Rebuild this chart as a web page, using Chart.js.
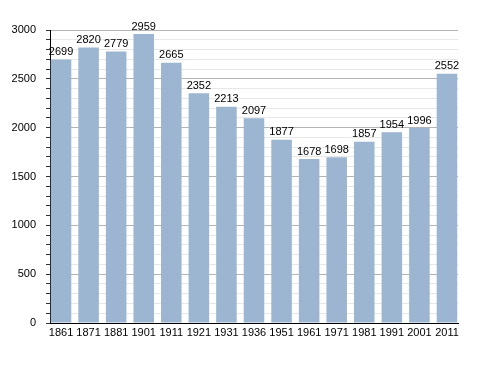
<!DOCTYPE html>
<html>
<head>
<meta charset="utf-8">
<script src="https://cdn.jsdelivr.net/npm/chart.js@4"></script>
<style>
  html, body { margin: 0; padding: 0; background: #fff; }
  #wrap { width: 488px; height: 373px; }
</style>
</head>
<body>
<div id="wrap"><canvas id="grafico" width="488" height="373"></canvas></div>
<script>
// Dados
const anos = ['1861', '1871', '1881', '1901', '1911', '1921', '1931', '1936', '1951', '1961', '1971', '1981', '1991', '2001', '2011'];
const populacao = [2699, 2820, 2779, 2959, 2665, 2352, 2213, 2097, 1877, 1678, 1698, 1857, 1954, 1996, 2552];
const ticksY = [0, 500, 1000, 1500, 2000, 2500, 3000];

const fonte = "'Liberation Sans', Arial, sans-serif";

// Rótulos com o valor acima de cada barra
const rotulosBarras = {
  id: 'rotulosBarras',
  afterDatasetsDraw(chart) {
    const ctx = chart.ctx;
    const meta = chart.getDatasetMeta(0);
    ctx.save();
    ctx.font = '11px ' + fonte;
    ctx.fillStyle = '#000';
    ctx.textAlign = 'center';
    ctx.textBaseline = 'bottom';
    meta.data.forEach(function (bar, i) {
      ctx.fillText(String(populacao[i]), bar.x, bar.y - 2);
    });
    ctx.restore();
  }
};

document.addEventListener("DOMContentLoaded", function () {
  const canvas = document.getElementById("grafico");
  new Chart(canvas, {
    type: 'bar',
    data: {
      datasets: [{
        data: populacao.map(function (v, i) { return { x: i, y: v }; }),
        backgroundColor: '#9cb5d1',
        borderWidth: 0,
        categoryPercentage: 1,
        barPercentage: 0.745
      }]
    },
    options: {
      responsive: false,
      animation: false,
      layout: { padding: { top: 30, right: 30, left: 0, bottom: 0 } },
      plugins: {
        legend: { display: false },
        tooltip: { enabled: false }
      },
      scales: {
        x: {
          type: 'linear',
          offset: false,
          min: -0.4,
          max: 14.4,
          afterFit: function (scale) { scale.height = 50; },
          grid: { display: false, drawTicks: false },
          border: { display: true, color: '#000', width: 1 },
          ticks: {
            stepSize: 1,
            includeBounds: false,
            autoSkip: false,
            maxRotation: 0,
            padding: 3,
            color: '#000',
            font: { family: fonte, size: 11 },
            callback: function (v) { return Number.isInteger(v) ? (anos[v] || '') : ''; }
          }
        },
        y: {
          min: 0,
          max: 3000,
          afterFit: function (scale) { scale.width = 50; },
          border: { display: true, color: '#000', width: 1 },
          grid: {
            color: function (c) { return c.tick && c.tick.value % 500 === 0 ? '#b4b4b4' : '#e8e8e8'; },
            tickColor: '#333',
            tickLength: 4
          },
          ticks: {
            stepSize: 100,
            autoSkip: false,
            padding: 10,
            color: '#000',
            font: { family: fonte, size: 11 },
            callback: function (v) { return ticksY.includes(v) ? v : ''; }
          }
        }
      }
    },
    plugins: [rotulosBarras]
  });
});
</script>
</body>
</html>
